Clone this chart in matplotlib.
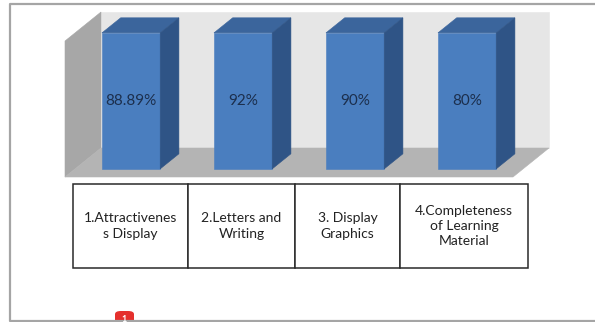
import numpy as np
import matplotlib.pyplot as plt
from matplotlib.transforms import IdentityTransform
from matplotlib.patches import Polygon, FancyBboxPatch
from matplotlib.lines import Line2D

categories = ["1.Attractivenes\ns Display", "2.Letters and\nWriting",
              "3. Display\nGraphics", "4.Completeness\nof Learning\nMaterial"]
scores = [88.89, 92, 90, 80]
score_labels = ["88.89%", "92%", "90%", "80%"]
axis_max = 80

W, H, DPI = 595, 322, 100
plt.rcParams['font.family'] = ['Lato', 'DejaVu Sans']
fig = plt.figure(figsize=(W / DPI, H / DPI), dpi=DPI)


def px_rect(x0, y0, x1, y1):
    # pixel box, origin top-left -> figure fraction rect
    return [x0 / W, 1 - y1 / H, (x1 - x0) / W, (y1 - y0) / H]


# front plane of the 3d plot box
ax = fig.add_axes(px_rect(65, 41, 513, 177))
ax.set_xlim(-0.5, len(categories) - 0.5)
ax.set_ylim(0, axis_max)
ax.axis('off')

DX, DY = 36, 29          # depth of the box in pixels
BAR_D0, BAR_D1 = 0.28, 0.80
BAR_W = 0.52


def proj(x, v, d):
    px, py = ax.transData.transform((x, v))
    return (px + d * DX, py + d * DY)


def face(pts, color, z=1):
    poly = Polygon([proj(*p) for p in pts], closed=True, transform=IdentityTransform(),
                   facecolor=color, edgecolor=color, lw=0.4, clip_on=False, zorder=z)
    ax.add_patch(poly)


x0, x1 = ax.get_xlim()
# walls and floor
face([(x0, 0, 1), (x1, 0, 1), (x1, axis_max, 1), (x0, axis_max, 1)], '#e6e6e6')
face([(x0, 0, 0), (x0, 0, 1), (x0, axis_max, 1), (x0, axis_max, 0)], '#a7a7a7')
face([(x0, 0, 0), (x1, 0, 0), (x1, 0, 1), (x0, 0, 1)], '#b4b4b4')

# bars, clipped at the axis maximum
heights = np.clip(scores, 0, axis_max)
for i, (h, lab) in enumerate(zip(heights, score_labels)):
    l, r = i - BAR_W / 2, i + BAR_W / 2
    face([(l, 0, BAR_D0), (r, 0, BAR_D0), (r, h, BAR_D0), (l, h, BAR_D0)], '#4a7ebf', 2)
    face([(l, h, BAR_D0), (r, h, BAR_D0), (r, h, BAR_D1), (l, h, BAR_D1)], '#3b659c', 2)
    face([(r, 0, BAR_D0), (r, 0, BAR_D1), (r, h, BAR_D1), (r, h, BAR_D0)], '#2f5486', 2)
    tx, ty = proj(i, h / 2, BAR_D0)
    ax.text(tx, ty, lab, transform=IdentityTransform(), ha='center', va='center',
            fontsize=11, color='#1c2f4d', zorder=3)

# category table under the plot
col_px = [115, 107, 105, 128]
tax = fig.add_axes(px_rect(73, 184, 528, 268))
tax.axis('off')
tbl = tax.table(cellText=[categories], colWidths=[w / sum(col_px) for w in col_px],
                cellLoc='center', bbox=[0, 0, 1, 1])
tbl.auto_set_font_size(False)
tbl.set_fontsize(10)
for cell in tbl.get_celld().values():
    cell.set_edgecolor('#2a2a2a')
    cell.set_linewidth(1.1)
    cell.get_text().set_linespacing(1.32)
    cell.get_text().set_color('#222222')

# outer frame (open on the right)
fx = np.array([595, 10, 10, 595]) / W
fy = 1 - np.array([4, 4, 321, 321]) / H
fig.add_artist(Line2D(fx, fy, color='#a5a5a5', lw=1.6))

# small red marker at the bottom
fig.add_artist(FancyBboxPatch((115 / W, 1 - 332 / H), 19 / W, 21 / H,
                              boxstyle='round,pad=0,rounding_size=0.01',
                              facecolor='#e5302d', edgecolor='none'))
fig.text(124.5 / W, 1 - 314.5 / H, '1', color='white', fontsize=6.5, fontweight='bold',
         ha='center', va='top')

fig.savefig('out.png', dpi=DPI)
